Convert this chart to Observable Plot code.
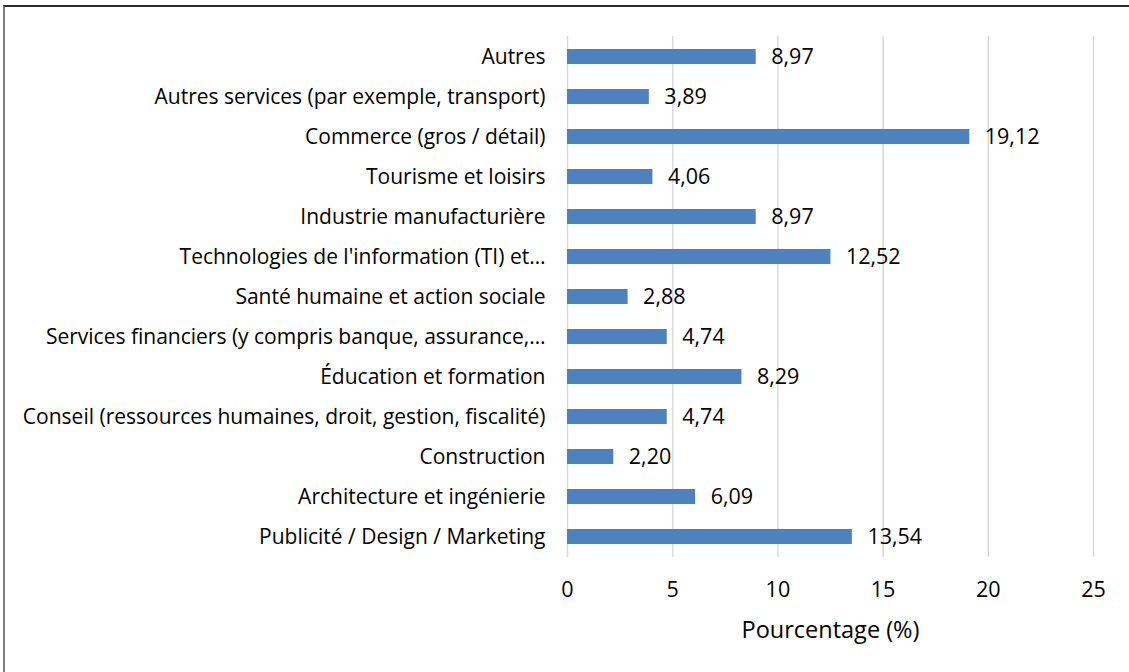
<!DOCTYPE html>
<html>
<head>
<meta charset="utf-8">
<script src="https://cdn.jsdelivr.net/npm/d3@7"></script>
<script src="https://cdn.jsdelivr.net/npm/@observablehq/plot@0.6"></script>
<style>
  html, body { margin: 0; padding: 0; background: #fff; }
  #wrap { position: relative; width: 1129px; height: 672px; overflow: hidden; }
  #frame { position: absolute; left: 3px; top: 5px; width: 1200px; height: 800px;
           border-left: 2px solid #7f7f7f; border-top: 2px solid #2b2b2b; box-sizing: border-box; }
  #chart { position: absolute; left: 0; top: 0; }
</style>
</head>
<body>
<div id="wrap"><div id="frame"></div><div id="chart"></div></div>
<script>
const categories = [
  "Autres",
  "Autres services (par exemple, transport)",
  "Commerce (gros / détail)",
  "Tourisme et loisirs",
  "Industrie manufacturière",
  "Technologies de l'information (TI) et…",
  "Santé humaine et action sociale",
  "Services financiers (y compris banque, assurance,…",
  "Éducation et formation",
  "Conseil (ressources humaines, droit, gestion, fiscalité)",
  "Construction",
  "Architecture et ingénierie",
  "Publicité / Design / Marketing"
];
const values = [8.97, 3.89, 19.12, 4.06, 8.97, 12.52, 2.88, 4.74, 8.29, 4.74, 2.20, 6.09, 13.54];
const xTicks = [0, 5, 10, 15, 20, 25];
const xTitle = "Pourcentage (%)";

const data = categories.map((c, i) => ({category: c, value: values[i]}));
const fmt = v => v.toFixed(2).replace(".", ",");
const font = "'Open Sans', sans-serif";

const chart = Plot.plot({
  width: 1129,
  height: 672,
  marginLeft: 567,
  marginRight: 36,
  marginTop: 36,
  marginBottom: 115,
  style: {fontFamily: font, fontSize: "21px", color: "#000", background: "transparent"},
  x: {domain: [0, 25], ticks: xTicks, label: null},
  y: {domain: categories, paddingInner: 0.626, paddingOuter: 0.312, label: null},
  marks: [
    Plot.gridX(xTicks, {stroke: "#d9d9d9", strokeOpacity: 1, strokeWidth: 1.5}),
    Plot.barX(data, {y: "category", x: "value", fill: "#4f81bd"}),
    Plot.text(data, {y: "category", x: "value", text: d => fmt(d.value), textAnchor: "start", dx: 15, fill: "#000", fontSize: 21.5}),
    Plot.axisY({tickSize: 0, tickPadding: 22, fontSize: 21, fill: "#000"}),
    Plot.axisX(xTicks, {tickSize: 0, tickPadding: 24, fontSize: 21.5, fill: "#000", label: null}),
    Plot.text([xTitle], {frameAnchor: "bottom", dy: 73, fontSize: 23.5, fill: "#000", text: d => d, lineAnchor: "middle"})
  ]
});
document.getElementById("chart").appendChild(chart);
</script>
</body>
</html>
